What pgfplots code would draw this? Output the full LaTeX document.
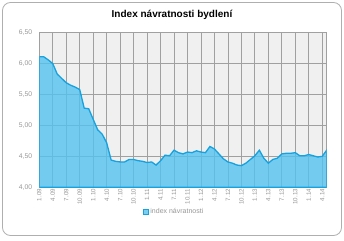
\documentclass[border=0pt]{standalone}
\usepackage{fontspec}
\setmainfont{Liberation Sans}
\usepackage{pgfplots}
\pgfplotsset{compat=1.18}
\definecolor{fillc}{RGB}{84,196,240}
\definecolor{linec}{RGB}{22,162,222}
\definecolor{gridc}{RGB}{160,160,160}
\definecolor{bgc}{RGB}{240,240,240}
\definecolor{txtc}{RGB}{150,150,150}
\definecolor{framec}{RGB}{175,175,175}
\begin{document}
\begin{tikzpicture}[x=1pt,y=1pt]
\path[use as bounding box] (0,0) rectangle (344,240);
\draw[framec, line width=0.8pt, rounded corners=8pt] (2.5,4.5) rectangle (341.5,237.5);
\node[font=\bfseries\fontsize{10}{12}\selectfont] at (172,225.5) {Index návratnosti bydlení};
\begin{axis}[xshift=39.3pt, yshift=52.7pt, scale only axis,
  width=287.4pt, height=154.6pt,
  xmin=0, xmax=64, ymin=4, ymax=6.5,
  axis background/.style={fill=bgc},
  axis line style={gridc, line width=0.8pt},
  grid=major, major grid style={gridc, line width=0.8pt},
  major tick length=0pt,
  xtick={0,3,...,63},
  xticklabels={1.09,4.09,7.09,10.09,1.10,4.10,7.10,10.10,1.11,4.11,7.11,10.11,1.12,4.12,7.12,10.12,1.13,4.13,7.13,10.13,1.14,4.14},
  x tick label style={rotate=90, anchor=east, font=\fontsize{6.2}{7}\selectfont, text=txtc, inner sep=1.5pt},
  ytick={4,4.5,5,5.5,6,6.5},
  y tick label style={font=\fontsize{6.8}{8}\selectfont, text=txtc, inner sep=2pt, xshift=-5pt},
  /pgf/number format/assume math mode=true,
  yticklabel style={/pgf/number format/.cd, fixed, fixed zerofill, precision=2, use comma},
  legend style={at={(0.469,-0.16)}, anchor=center, draw=none, fill=none, font=\fontsize{7}{8}\selectfont, text=txtc, inner sep=1pt},
  legend image code/.code={\fill[fillc, draw=linec, line width=0.6pt] (0pt,-2.5pt) rectangle (5pt,2.5pt);},
]
\addplot[draw=linec, line width=1.3pt, fill=fillc, fill opacity=0.8, draw opacity=1] coordinates {
(0,6.11)(1,6.11)(2,6.06)(3,6.00)(4,5.83)(5,5.76)(6,5.69)(7,5.65)(8,5.62)(9,5.58)
(10,5.28)(11,5.27)(12,5.10)(13,4.93)(14,4.86)(15,4.72)(16,4.44)(17,4.42)(18,4.41)(19,4.41)
(20,4.45)(21,4.45)(22,4.43)(23,4.42)(24,4.40)(25,4.41)(26,4.36)(27,4.43)(28,4.52)(29,4.51)
(30,4.60)(31,4.56)(32,4.54)(33,4.57)(34,4.56)(35,4.59)(36,4.57)(37,4.56)(38,4.66)(39,4.62)
(40,4.54)(41,4.46)(42,4.41)(43,4.39)(44,4.36)(45,4.35)(46,4.39)(47,4.45)(48,4.51)(49,4.60)
(50,4.47)(51,4.39)(52,4.45)(53,4.47)(54,4.54)(55,4.55)(56,4.55)(57,4.56)(58,4.51)(59,4.51)
(60,4.53)(61,4.51)(62,4.49)(63,4.50)(64,4.60)
} \closedcycle;
\addlegendentry{index návratnosti}
\end{axis}
\end{tikzpicture}
\end{document}
